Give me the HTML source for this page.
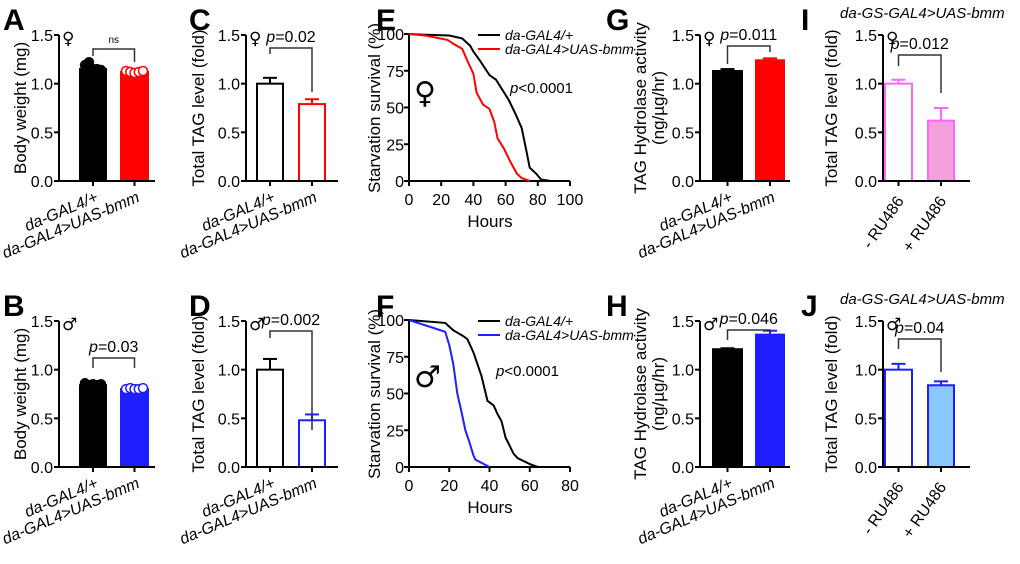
<!DOCTYPE html>
<html><head><meta charset="utf-8"><style>
body{margin:0;background:#fff;}
svg{display:block;font-family:"Liberation Sans","DejaVu Sans",sans-serif;}
</style></head><body>
<svg id="fig" width="1020" height="564" viewBox="0 0 1020 564" xmlns="http://www.w3.org/2000/svg"></svg>
<script>
// ---- data ----
const barValsA=[1.15,1.12], barErrA=[0,0];
const barValsB=[0.84,0.80], barErrB=[0,0];
const barValsC=[1.0,0.79], barErrC=[0.06,0.05];
const barValsD=[1.0,0.48], barErrD=[0.11,0.06];
const barValsG=[1.13,1.24], barErrG=[0.02,0.02];
const barValsH=[1.21,1.36], barErrH=[0.01,0.04];
const barValsI=[1.0,0.62], barErrI=[0.04,0.13];
const barValsJ=[1.0,0.84], barErrJ=[0.06,0.04];
const dotsA=[[1.19,1.22,1.15,1.15,1.14],[1.13,1.12,1.11,1.12,1.13]];
const dotsB=[[0.86,0.84,0.85,0.84,0.85],[0.80,0.81,0.80,0.80,0.81]];
const genoLabels=["da-GAL4/+","da-GAL4>UAS-bmm"];
const ruLabels=["- RU486","+ RU486"];
const barTicks=[0,0.5,1.0,1.5];
const barTickLabels=["0.0","0.5","1.0","1.5"];
const survTicks=[0,25,50,75,100];
const hoursE=[0,10,25,33,38,40,44,47,50,54,58,62,66,70,73,75,79,82,85,88];
const survEctl=[100,99.5,99,97,92,88,82,77,72,69,62,55,46,36,20,9,5,1,0.5,0];
const hoursEbmm=[0,10,24,28,33,37,40,42,46,50,53,55,59,63,67,70,74,75];
const survEbmm=[100,99,96,93,90,80,73,60,52,49,40,29,22,13,5,2,0.5,0];
const hoursFctl=[0,18,22,27,29,32,36,39,42,44,46,48,52,54,60,64];
const survFctl=[100,98,93,89,87,78,62,45,42,36,31,20,9,6,2,0];
const hoursFbmm=[0,18,20,22,24,26,28,30,32,33,40];
const survFbmm=[100,92,83,70,50,38,25,17,8,5,0];
const xTicksE=[0,20,40,60,80,100], xTicksF=[0,20,40,60,80];

const svg=document.getElementById('fig');
const NS='http://www.w3.org/2000/svg';
function mk(tag,attrs,parent,text){const e=document.createElementNS(NS,tag);for(const k in attrs)e.setAttribute(k,attrs[k]);if(text!==undefined)e.textContent=text;(parent||svg).appendChild(e);return e;}

function letter(t,x,y){const e=mk('text',{x:x,y:y,'font-size':30,'font-weight':'bold'},svg,t);

}

function barPanel(p){
  const g=mk('g',{});
  
  
  const y0=p.y0, sc=146/1.5;
  const Y=v=>y0-v*sc;
  const cx=p.bars.map(b=>(b[0]+b[1])/2);
  p.vals.forEach((v,i)=>{
    const r=mk('rect',{x:p.bars[i][0],y:Y(v),width:p.bars[i][1]-p.bars[i][0],height:y0-Y(v),fill:p.fill[i],stroke:p.stroke[i],'stroke-width':2},g);
    
    
    if(p.err[i]>0){
      const tp=Y(v+p.err[i]);
      mk('line',{x1:cx[i],x2:cx[i],y1:Y(v),y2:tp,stroke:p.stroke[i],'stroke-width':2},g);
      mk('line',{x1:cx[i]-7,x2:cx[i]+7,y1:tp,y2:tp,stroke:p.stroke[i],'stroke-width':2},g);
    }
  });
  if(p.dots){p.dots.forEach((arr,i)=>{arr.forEach((v,j)=>{
    const c=mk('circle',{cx:p.bars[i][0]+5+j*((p.bars[i][1]-p.bars[i][0]-10)/(arr.length-1)),cy:Y(v),r:4.5,fill:p.dotFill[i],stroke:p.stroke[i],'stroke-width':1.5},g);
    
    });});}
  mk('line',{x1:p.ax,x2:p.ax,y1:Y(1.5),y2:y0+1,stroke:'#000','stroke-width':2},g);
  mk('line',{x1:p.ax,x2:p.axEnd,y1:y0,y2:y0,stroke:'#000','stroke-width':2},g);
  barTicks.forEach((t,i)=>{
    mk('line',{x1:p.ax-5,x2:p.ax,y1:Y(t),y2:Y(t),stroke:'#000','stroke-width':2},g);
    mk('text',{x:p.ax-6,y:Y(t)+6,'font-size':16,'text-anchor':'end'},g,barTickLabels[i]);
  });
  cx.forEach((c,i)=>{
    mk('line',{x1:c,x2:c,y1:y0,y2:y0+5,stroke:'#000','stroke-width':2},g);
    const t=mk('text',{x:c+6,y:y0+20,'font-size':16,'font-style':p.italicX?'italic':'normal','text-anchor':'end',transform:`rotate(${p.rot} ${c+6} ${y0+20})`},g,p.xl[i]);
    
    
  });
  p.yt.forEach((s,k)=>{
    const tx=p.ytx[k];
    const t=mk('text',{x:tx,y:y0-73,'font-size':17,'text-anchor':'middle',transform:`rotate(-90 ${tx} ${y0-73})`},g,s);
    
    
  });
  mk('text',{x:p.ax+3,y:Y(1.5)+9,'font-size':17,'font-family':'DejaVu Sans'},g,p.sex);
  const b=p.br;
  mk('polyline',{points:`${cx[0]},${b[1]} ${cx[0]},${b[0]} ${cx[1]},${b[0]} ${cx[1]},${b[2]}`,fill:'none',stroke:'#333','stroke-width':1.5},g);
  const pt=mk('text',{x:(cx[0]+cx[1])/2,y:b[0]-6,'font-size':p.ptext==='ns'?10:16,'text-anchor':'middle'},g);
  
  
  if(p.ptext==='ns'){pt.textContent='ns';}
  else{mk('tspan',{'font-style':'italic'},pt,'p');mk('tspan',{},pt,'='+p.ptext);}
}

const R='#ff0000', BL='#1e1eff', PK='#ff66ff';
const topY=181, botY=467;
barPanel({id:'a',y0:topY,ax:59,axEnd:155,bars:[[80,106],[121,148]],vals:barValsA,err:barErrA,fill:['#000',R],stroke:['#000',R],dots:dotsA,dotFill:['#000','#fff'],xl:genoLabels,italicX:true,rot:-23,yt:['Body weight (mg)'],ytx:[26],sex:'♀',br:[49,56,62],ptext:'ns'});
barPanel({id:'b',y0:botY,ax:59,axEnd:155,bars:[[80,106],[121,148]],vals:barValsB,err:barErrB,fill:['#000',BL],stroke:['#000',BL],dots:dotsB,dotFill:['#000','#fff'],xl:genoLabels,italicX:true,rot:-23,yt:['Body weight (mg)'],ytx:[26],sex:'♂',br:[358,368,368],ptext:'0.03'});
barPanel({id:'c',y0:topY,ax:246,axEnd:338,bars:[[257,283],[299,325]],vals:barValsC,err:barErrC,fill:['#fff','#fff'],stroke:['#000',R],xl:genoLabels,italicX:true,rot:-23,yt:['Total TAG  level (fold)'],ytx:[204],sex:'♀',br:[48,54,92],ptext:'0.02'});
barPanel({id:'d',y0:botY,ax:246,axEnd:338,bars:[[257,283],[299,325]],vals:barValsD,err:barErrD,fill:['#fff','#fff'],stroke:['#000',BL],xl:genoLabels,italicX:true,rot:-23,yt:['Total TAG  level (fold)'],ytx:[204],sex:'♂',br:[331,338,430],ptext:'0.002'});
barPanel({id:'g',y0:topY,ax:700,axEnd:790,bars:[[713,742],[756,784]],vals:barValsG,err:barErrG,fill:['#000',R],stroke:['#000',R],xl:genoLabels,italicX:true,rot:-23,yt:['TAG Hydrolase activity','(ng/µg/hr)'],ytx:[646,664],sex:'♀',br:[46,64,52],ptext:'0.011'});
barPanel({id:'h',y0:botY,ax:700,axEnd:790,bars:[[713,742],[756,784]],vals:barValsH,err:barErrH,fill:['#000',BL],stroke:['#000',BL],xl:genoLabels,italicX:true,rot:-23,yt:['TAG Hydrolase activity','(ng/µg/hr)'],ytx:[646,664],sex:'♂',br:[330,340,332],ptext:'0.046'});
barPanel({id:'i',y0:topY,ax:883,axEnd:970,bars:[[885,912],[928,954]],vals:barValsI,err:barErrI,fill:['#fff','#f4a0dc'],stroke:[PK,PK],xl:ruLabels,italicX:false,rot:-55,yt:['Total TAG  level (fold)'],ytx:[837],sex:'♀',br:[55,66,93],ptext:'0.012'});
barPanel({id:'j',y0:botY,ax:883,axEnd:970,bars:[[885,912],[928,954]],vals:barValsJ,err:barErrJ,fill:['#fff','#88c8ff'],stroke:[BL,BL],xl:ruLabels,italicX:false,rot:-55,yt:['Total TAG  level (fold)'],ytx:[837],sex:'♂',br:[339,349,372],ptext:'0.04'});

function survPanel(p){
  const g=mk('g',{});
  
  
  const X=h=>409+h*(161/p.xmax), Y=s=>p.y0-s*1.47;
  mk('line',{x1:409,x2:409,y1:Y(100),y2:p.y0+1,stroke:'#000','stroke-width':2},g);
  mk('line',{x1:409,x2:570,y1:p.y0,y2:p.y0,stroke:'#000','stroke-width':2},g);
  survTicks.forEach(t=>{mk('line',{x1:404,x2:409,y1:Y(t),y2:Y(t),stroke:'#000','stroke-width':2},g);
    mk('text',{x:404,y:Y(t)+6,'font-size':16,'text-anchor':'end'},g,String(t));});
  p.xt.forEach(t=>{mk('line',{x1:X(t),x2:X(t),y1:p.y0,y2:p.y0+5,stroke:'#000','stroke-width':2},g);
    mk('text',{x:X(t),y:p.y0+24,'font-size':16,'text-anchor':'middle'},g,String(t));});
  const xt=mk('text',{x:490,y:p.y0+46,'font-size':17,'text-anchor':'middle'},g,'Hours');
  
  
  const yt=mk('text',{x:380,y:p.y0-73,'font-size':17,'text-anchor':'middle',transform:`rotate(-90 380 ${p.y0-73})`},g,'Starvation survival (%)');
  
  
  p.series.forEach((s,i)=>{
    const l=mk('polyline',{points:s.h.map((h,k)=>X(h)+','+Y(s.v[k])).join(' '),fill:'none',stroke:s.c,'stroke-width':2},g);
    
    
    const ly=Y(100)+1+i*14;
    mk('line',{x1:478,x2:500,y1:ly,y2:ly,stroke:s.c,'stroke-width':2},g);
    const lt=mk('text',{x:505,y:ly+5,'font-size':14,'font-style':'italic'},g,genoLabels[i]);
    
    
  });
  const pt=mk('text',{x:p.px,y:p.py,'font-size':15},g);
  mk('tspan',{'font-style':'italic'},pt,'p');mk('tspan',{},pt,'<0.0001');
  mk('text',{x:p.sx,y:p.sy,'font-size':30,'font-family':'DejaVu Sans'},g,p.sex);
}
survPanel({id:'e',y0:181,xmax:100,xt:xTicksE,series:[{h:hoursE,v:survEctl,c:'#000'},{h:hoursEbmm,v:survEbmm,c:R}],px:510,py:93,sex:'♀',sx:414,sy:103});
survPanel({id:'f',y0:467,xmax:80,xt:xTicksF,series:[{h:hoursFctl,v:survFctl,c:'#000'},{h:hoursFbmm,v:survFbmm,c:BL}],px:496,py:376,sex:'♂',sx:414,sy:387});

[['A',3,30],['C',189,30],['E',376,30],['G',606,30],['I',801,30],['B',3,316],['D',189,316],['F',376,316],['H',606,316],['J',801,316]].forEach(a=>letter(a[0],a[1],a[2]));
[['i',18],['j',304]].forEach(a=>{const t=mk('text',{x:840,y:a[1],'font-size':15,'font-style':'italic'},svg,'da-GS-GAL4>UAS-bmm');

});
</script>
</body></html>
